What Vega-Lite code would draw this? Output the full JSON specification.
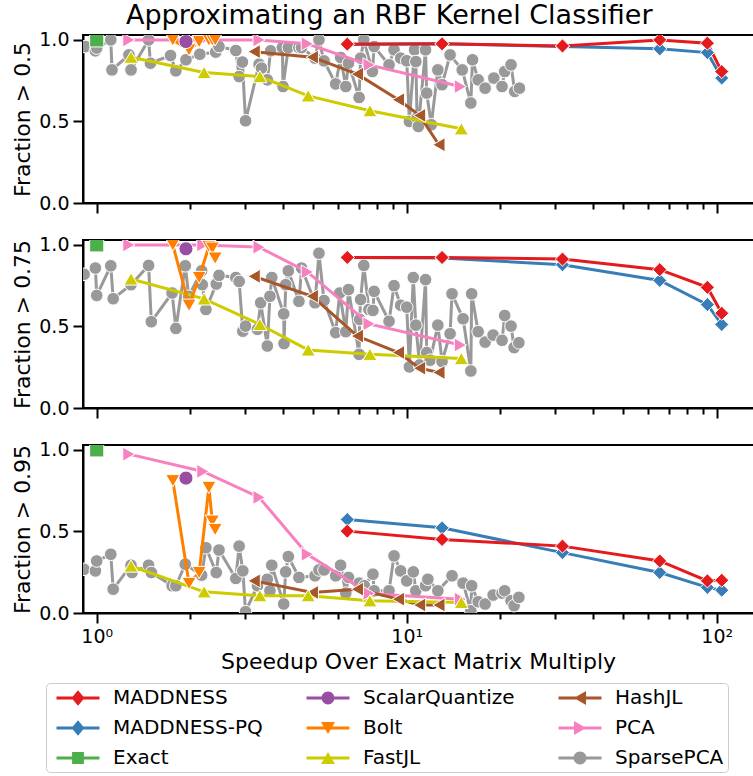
{
  "$schema": "https://vega.github.io/schema/vega-lite/v6.json",
  "padding": {"left": 10, "top": 1, "right": 0, "bottom": 0},
  "title": {
    "text": "Approximating an RBF Kernel Classifier",
    "fontSize": 27,
    "fontWeight": "normal",
    "font": "DejaVu Sans",
    "color": "black",
    "anchor": "start",
    "frame": "group",
    "dx": 43,
    "offset": 0
  },
  "config": {
    "font": "DejaVu Sans",
    "view": {"stroke": "black", "strokeWidth": 2},
    "axis": {
      "grid": false,
      "domainColor": "black",
      "domainWidth": 2,
      "tickColor": "black",
      "tickWidth": 2,
      "tickSize": 10,
      "labelFont": "DejaVu Sans",
      "labelFontSize": 19,
      "labelColor": "black",
      "labelPadding": 4,
      "labelFlush": false,
      "labelOverlap": false,
      "titleFont": "DejaVu Sans",
      "titleFontSize": 22,
      "titleFontWeight": "normal",
      "titleColor": "black"
    },
    "legend": {
      "labelFont": "DejaVu Sans",
      "labelFontSize": 20,
      "labelColor": "black",
      "symbolSize": 462,
      "symbolStrokeWidth": 0,
      "symbolOpacity": 1,
      "symbolOffset": 17,
      "labelOffset": 24,
      "rowPadding": 9,
      "columnPadding": 37,
      "padding": 4,
      "strokeColor": "#cccccc",
      "fillColor": "white",
      "cornerRadius": 4,
      "labelLimit": 400
    }
  },
  "spacing": 37,
  "bounds": "flush",
  "resolve": {"scale": {"color": "shared", "shape": "shared", "stroke": "shared"}},
  "datasets": {
    "results": [
      {"panel": 1, "method": "SparsePCA", "x": 0.92, "y": 0.959},
      {"panel": 1, "method": "SparsePCA", "x": 0.99, "y": 0.933},
      {"panel": 1, "method": "SparsePCA", "x": 1.0, "y": 0.95},
      {"panel": 1, "method": "SparsePCA", "x": 1.11, "y": 1.0},
      {"panel": 1, "method": "SparsePCA", "x": 1.12, "y": 0.816},
      {"panel": 1, "method": "SparsePCA", "x": 1.27, "y": 0.908},
      {"panel": 1, "method": "SparsePCA", "x": 1.29, "y": 0.816},
      {"panel": 1, "method": "SparsePCA", "x": 1.47, "y": 1.0},
      {"panel": 1, "method": "SparsePCA", "x": 1.49, "y": 0.857},
      {"panel": 1, "method": "SparsePCA", "x": 1.73, "y": 0.904},
      {"panel": 1, "method": "SparsePCA", "x": 1.8, "y": 0.81},
      {"panel": 1, "method": "SparsePCA", "x": 1.94, "y": 0.878},
      {"panel": 1, "method": "SparsePCA", "x": 2.15, "y": 0.912},
      {"panel": 1, "method": "SparsePCA", "x": 2.42, "y": 0.925},
      {"panel": 1, "method": "SparsePCA", "x": 2.48, "y": 0.959},
      {"panel": 1, "method": "SparsePCA", "x": 2.81, "y": 0.935},
      {"panel": 1, "method": "SparsePCA", "x": 2.88, "y": 0.775},
      {"panel": 1, "method": "SparsePCA", "x": 2.95, "y": 0.864},
      {"panel": 1, "method": "SparsePCA", "x": 3.02, "y": 0.504},
      {"panel": 1, "method": "SparsePCA", "x": 3.34, "y": 0.851},
      {"panel": 1, "method": "SparsePCA", "x": 3.4, "y": 0.827},
      {"panel": 1, "method": "SparsePCA", "x": 3.55, "y": 0.755},
      {"panel": 1, "method": "SparsePCA", "x": 3.64, "y": 0.933},
      {"panel": 1, "method": "SparsePCA", "x": 3.97, "y": 0.953},
      {"panel": 1, "method": "SparsePCA", "x": 3.99, "y": 0.714},
      {"panel": 1, "method": "SparsePCA", "x": 4.15, "y": 0.953},
      {"panel": 1, "method": "SparsePCA", "x": 4.49, "y": 0.953},
      {"panel": 1, "method": "SparsePCA", "x": 4.58, "y": 0.953},
      {"panel": 1, "method": "SparsePCA", "x": 5.06, "y": 0.888},
      {"panel": 1, "method": "SparsePCA", "x": 5.21, "y": 1.0},
      {"panel": 1, "method": "SparsePCA", "x": 5.41, "y": 0.871},
      {"panel": 1, "method": "SparsePCA", "x": 5.9, "y": 0.73},
      {"panel": 1, "method": "SparsePCA", "x": 6.12, "y": 0.892},
      {"panel": 1, "method": "SparsePCA", "x": 6.36, "y": 0.714},
      {"panel": 1, "method": "SparsePCA", "x": 6.49, "y": 0.857},
      {"panel": 1, "method": "SparsePCA", "x": 7.02, "y": 0.647},
      {"panel": 1, "method": "SparsePCA", "x": 7.1, "y": 0.888},
      {"panel": 1, "method": "SparsePCA", "x": 7.27, "y": 1.0},
      {"panel": 1, "method": "SparsePCA", "x": 7.75, "y": 0.806},
      {"panel": 1, "method": "SparsePCA", "x": 7.85, "y": 0.959},
      {"panel": 1, "method": "SparsePCA", "x": 8.77, "y": 0.847},
      {"panel": 1, "method": "SparsePCA", "x": 9.1, "y": 0.939},
      {"panel": 1, "method": "SparsePCA", "x": 9.56, "y": 0.888},
      {"panel": 1, "method": "SparsePCA", "x": 10.0, "y": 0.872},
      {"panel": 1, "method": "SparsePCA", "x": 10.2, "y": 0.5},
      {"panel": 1, "method": "SparsePCA", "x": 10.6, "y": 0.939},
      {"panel": 1, "method": "SparsePCA", "x": 10.7, "y": 0.867},
      {"panel": 1, "method": "SparsePCA", "x": 10.8, "y": 0.521},
      {"panel": 1, "method": "SparsePCA", "x": 10.9, "y": 0.469},
      {"panel": 1, "method": "SparsePCA", "x": 11.5, "y": 0.939},
      {"panel": 1, "method": "SparsePCA", "x": 11.6, "y": 0.674},
      {"panel": 1, "method": "SparsePCA", "x": 12.0, "y": 0.48},
      {"panel": 1, "method": "SparsePCA", "x": 12.6, "y": 0.816},
      {"panel": 1, "method": "SparsePCA", "x": 13.0, "y": 0.725},
      {"panel": 1, "method": "SparsePCA", "x": 13.8, "y": 0.908},
      {"panel": 1, "method": "SparsePCA", "x": 15.1, "y": 0.816},
      {"panel": 1, "method": "SparsePCA", "x": 16.1, "y": 0.613},
      {"panel": 1, "method": "SparsePCA", "x": 16.3, "y": 0.878},
      {"panel": 1, "method": "SparsePCA", "x": 17.0, "y": 0.755},
      {"panel": 1, "method": "SparsePCA", "x": 17.9, "y": 0.704},
      {"panel": 1, "method": "SparsePCA", "x": 19.1, "y": 0.766},
      {"panel": 1, "method": "SparsePCA", "x": 20.3, "y": 0.714},
      {"panel": 1, "method": "SparsePCA", "x": 20.7, "y": 0.806},
      {"panel": 1, "method": "SparsePCA", "x": 21.7, "y": 0.847},
      {"panel": 1, "method": "SparsePCA", "x": 22.3, "y": 0.684},
      {"panel": 1, "method": "SparsePCA", "x": 23.1, "y": 0.704},

      {"panel": 2, "method": "SparsePCA", "x": 0.91, "y": 0.82},
      {"panel": 2, "method": "SparsePCA", "x": 0.99, "y": 0.858},
      {"panel": 2, "method": "SparsePCA", "x": 1.0, "y": 0.69},
      {"panel": 2, "method": "SparsePCA", "x": 1.11, "y": 0.872},
      {"panel": 2, "method": "SparsePCA", "x": 1.13, "y": 0.67},
      {"panel": 2, "method": "SparsePCA", "x": 1.29, "y": 0.756},
      {"panel": 2, "method": "SparsePCA", "x": 1.47, "y": 0.874},
      {"panel": 2, "method": "SparsePCA", "x": 1.5, "y": 0.529},
      {"panel": 2, "method": "SparsePCA", "x": 1.75, "y": 0.705},
      {"panel": 2, "method": "SparsePCA", "x": 1.8, "y": 0.488},
      {"panel": 2, "method": "SparsePCA", "x": 1.93, "y": 0.872},
      {"panel": 2, "method": "SparsePCA", "x": 1.98, "y": 0.685},
      {"panel": 2, "method": "SparsePCA", "x": 2.18, "y": 0.841},
      {"panel": 2, "method": "SparsePCA", "x": 2.19, "y": 0.756},
      {"panel": 2, "method": "SparsePCA", "x": 2.25, "y": 0.604},
      {"panel": 2, "method": "SparsePCA", "x": 2.43, "y": 0.76},
      {"panel": 2, "method": "SparsePCA", "x": 2.48, "y": 0.813},
      {"panel": 2, "method": "SparsePCA", "x": 2.81, "y": 0.8},
      {"panel": 2, "method": "SparsePCA", "x": 2.88, "y": 0.776},
      {"panel": 2, "method": "SparsePCA", "x": 2.96, "y": 0.471},
      {"panel": 2, "method": "SparsePCA", "x": 3.02, "y": 0.502},
      {"panel": 2, "method": "SparsePCA", "x": 3.3, "y": 0.482},
      {"panel": 2, "method": "SparsePCA", "x": 3.38, "y": 0.645},
      {"panel": 2, "method": "SparsePCA", "x": 3.55, "y": 0.38},
      {"panel": 2, "method": "SparsePCA", "x": 3.62, "y": 0.685},
      {"panel": 2, "method": "SparsePCA", "x": 3.67, "y": 0.8},
      {"panel": 2, "method": "SparsePCA", "x": 4.01, "y": 0.577},
      {"panel": 2, "method": "SparsePCA", "x": 4.02, "y": 0.395},
      {"panel": 2, "method": "SparsePCA", "x": 4.07, "y": 0.756},
      {"panel": 2, "method": "SparsePCA", "x": 4.15, "y": 0.841},
      {"panel": 2, "method": "SparsePCA", "x": 4.49, "y": 0.654},
      {"panel": 2, "method": "SparsePCA", "x": 4.58, "y": 0.858},
      {"panel": 2, "method": "SparsePCA", "x": 5.06, "y": 0.645},
      {"panel": 2, "method": "SparsePCA", "x": 5.21, "y": 0.949},
      {"panel": 2, "method": "SparsePCA", "x": 5.41, "y": 0.659},
      {"panel": 2, "method": "SparsePCA", "x": 5.9, "y": 0.462},
      {"panel": 2, "method": "SparsePCA", "x": 6.08, "y": 0.705},
      {"panel": 2, "method": "SparsePCA", "x": 6.36, "y": 0.468},
      {"panel": 2, "method": "SparsePCA", "x": 6.49, "y": 0.726},
      {"panel": 2, "method": "SparsePCA", "x": 7.02, "y": 0.329},
      {"panel": 2, "method": "SparsePCA", "x": 7.05, "y": 0.543},
      {"panel": 2, "method": "SparsePCA", "x": 7.1, "y": 0.665},
      {"panel": 2, "method": "SparsePCA", "x": 7.27, "y": 0.874},
      {"panel": 2, "method": "SparsePCA", "x": 7.55, "y": 0.604},
      {"panel": 2, "method": "SparsePCA", "x": 7.78, "y": 0.598},
      {"panel": 2, "method": "SparsePCA", "x": 7.85, "y": 0.715},
      {"panel": 2, "method": "SparsePCA", "x": 8.77, "y": 0.532},
      {"panel": 2, "method": "SparsePCA", "x": 9.1, "y": 0.75},
      {"panel": 2, "method": "SparsePCA", "x": 9.56, "y": 0.63},
      {"panel": 2, "method": "SparsePCA", "x": 10.0, "y": 0.618},
      {"panel": 2, "method": "SparsePCA", "x": 10.2, "y": 0.252},
      {"panel": 2, "method": "SparsePCA", "x": 10.5, "y": 0.8},
      {"panel": 2, "method": "SparsePCA", "x": 10.7, "y": 0.508},
      {"panel": 2, "method": "SparsePCA", "x": 11.0, "y": 0.264},
      {"panel": 2, "method": "SparsePCA", "x": 11.5, "y": 0.787},
      {"panel": 2, "method": "SparsePCA", "x": 11.6, "y": 0.34},
      {"panel": 2, "method": "SparsePCA", "x": 11.9, "y": 0.293},
      {"panel": 2, "method": "SparsePCA", "x": 12.6, "y": 0.508},
      {"panel": 2, "method": "SparsePCA", "x": 13.0, "y": 0.285},
      {"panel": 2, "method": "SparsePCA", "x": 13.8, "y": 0.455},
      {"panel": 2, "method": "SparsePCA", "x": 14.0, "y": 0.7},
      {"panel": 2, "method": "SparsePCA", "x": 15.2, "y": 0.547},
      {"panel": 2, "method": "SparsePCA", "x": 16.1, "y": 0.227},
      {"panel": 2, "method": "SparsePCA", "x": 16.2, "y": 0.7},
      {"panel": 2, "method": "SparsePCA", "x": 17.0, "y": 0.468},
      {"panel": 2, "method": "SparsePCA", "x": 17.9, "y": 0.404},
      {"panel": 2, "method": "SparsePCA", "x": 19.0, "y": 0.447},
      {"panel": 2, "method": "SparsePCA", "x": 20.3, "y": 0.415},
      {"panel": 2, "method": "SparsePCA", "x": 20.7, "y": 0.567},
      {"panel": 2, "method": "SparsePCA", "x": 21.7, "y": 0.502},
      {"panel": 2, "method": "SparsePCA", "x": 22.2, "y": 0.37},
      {"panel": 2, "method": "SparsePCA", "x": 23.0, "y": 0.4},

      {"panel": 3, "method": "SparsePCA", "x": 0.91, "y": 0.268},
      {"panel": 3, "method": "SparsePCA", "x": 0.99, "y": 0.258},
      {"panel": 3, "method": "SparsePCA", "x": 1.0, "y": 0.319},
      {"panel": 3, "method": "SparsePCA", "x": 1.11, "y": 0.36},
      {"panel": 3, "method": "SparsePCA", "x": 1.13, "y": 0.146},
      {"panel": 3, "method": "SparsePCA", "x": 1.29, "y": 0.293},
      {"panel": 3, "method": "SparsePCA", "x": 1.3, "y": 0.248},
      {"panel": 3, "method": "SparsePCA", "x": 1.47, "y": 0.293},
      {"panel": 3, "method": "SparsePCA", "x": 1.5, "y": 0.248},
      {"panel": 3, "method": "SparsePCA", "x": 1.75, "y": 0.167},
      {"panel": 3, "method": "SparsePCA", "x": 1.8, "y": 0.167},
      {"panel": 3, "method": "SparsePCA", "x": 1.93, "y": 0.299},
      {"panel": 3, "method": "SparsePCA", "x": 2.18, "y": 0.232},
      {"panel": 3, "method": "SparsePCA", "x": 2.25, "y": 0.4},
      {"panel": 3, "method": "SparsePCA", "x": 2.43, "y": 0.248},
      {"panel": 3, "method": "SparsePCA", "x": 2.48, "y": 0.386},
      {"panel": 3, "method": "SparsePCA", "x": 2.81, "y": 0.212},
      {"panel": 3, "method": "SparsePCA", "x": 2.88, "y": 0.41},
      {"panel": 3, "method": "SparsePCA", "x": 2.96, "y": 0.258},
      {"panel": 3, "method": "SparsePCA", "x": 3.02, "y": 0.008},
      {"panel": 3, "method": "SparsePCA", "x": 3.3, "y": 0.167},
      {"panel": 3, "method": "SparsePCA", "x": 3.55, "y": 0.207},
      {"panel": 3, "method": "SparsePCA", "x": 3.62, "y": 0.136},
      {"panel": 3, "method": "SparsePCA", "x": 3.67, "y": 0.293},
      {"panel": 3, "method": "SparsePCA", "x": 4.01, "y": 0.055},
      {"panel": 3, "method": "SparsePCA", "x": 4.07, "y": 0.252},
      {"panel": 3, "method": "SparsePCA", "x": 4.15, "y": 0.346},
      {"panel": 3, "method": "SparsePCA", "x": 4.49, "y": 0.218},
      {"panel": 3, "method": "SparsePCA", "x": 5.06, "y": 0.228},
      {"panel": 3, "method": "SparsePCA", "x": 5.21, "y": 0.264},
      {"panel": 3, "method": "SparsePCA", "x": 5.41, "y": 0.264},
      {"panel": 3, "method": "SparsePCA", "x": 5.9, "y": 0.228},
      {"panel": 3, "method": "SparsePCA", "x": 6.12, "y": 0.293},
      {"panel": 3, "method": "SparsePCA", "x": 6.36, "y": 0.122},
      {"panel": 3, "method": "SparsePCA", "x": 6.49, "y": 0.218},
      {"panel": 3, "method": "SparsePCA", "x": 7.02, "y": 0.183},
      {"panel": 3, "method": "SparsePCA", "x": 7.3, "y": 0.167},
      {"panel": 3, "method": "SparsePCA", "x": 7.78, "y": 0.238},
      {"panel": 3, "method": "SparsePCA", "x": 7.85, "y": 0.136},
      {"panel": 3, "method": "SparsePCA", "x": 8.77, "y": 0.136},
      {"panel": 3, "method": "SparsePCA", "x": 9.1, "y": 0.35},
      {"panel": 3, "method": "SparsePCA", "x": 9.56, "y": 0.258},
      {"panel": 3, "method": "SparsePCA", "x": 10.0, "y": 0.197},
      {"panel": 3, "method": "SparsePCA", "x": 10.5, "y": 0.252},
      {"panel": 3, "method": "SparsePCA", "x": 10.7, "y": 0.136},
      {"panel": 3, "method": "SparsePCA", "x": 11.5, "y": 0.167},
      {"panel": 3, "method": "SparsePCA", "x": 11.7, "y": 0.207},
      {"panel": 3, "method": "SparsePCA", "x": 12.6, "y": 0.136},
      {"panel": 3, "method": "SparsePCA", "x": 14.0, "y": 0.228},
      {"panel": 3, "method": "SparsePCA", "x": 15.2, "y": 0.183},
      {"panel": 3, "method": "SparsePCA", "x": 16.1, "y": 0.014},
      {"panel": 3, "method": "SparsePCA", "x": 16.2, "y": 0.167},
      {"panel": 3, "method": "SparsePCA", "x": 17.0, "y": 0.069},
      {"panel": 3, "method": "SparsePCA", "x": 17.9, "y": 0.055},
      {"panel": 3, "method": "SparsePCA", "x": 19.0, "y": 0.11},
      {"panel": 3, "method": "SparsePCA", "x": 20.3, "y": 0.122},
      {"panel": 3, "method": "SparsePCA", "x": 20.7, "y": 0.136},
      {"panel": 3, "method": "SparsePCA", "x": 21.7, "y": 0.075},
      {"panel": 3, "method": "SparsePCA", "x": 22.2, "y": 0.045},
      {"panel": 3, "method": "SparsePCA", "x": 23.0, "y": 0.096},

      {"panel": 1, "method": "PCA", "x": 1.27, "y": 1.0},
      {"panel": 1, "method": "PCA", "x": 2.2, "y": 1.0},
      {"panel": 1, "method": "PCA", "x": 3.34, "y": 1.0},
      {"panel": 1, "method": "PCA", "x": 4.78, "y": 0.976},
      {"panel": 1, "method": "PCA", "x": 7.56, "y": 0.847},
      {"panel": 1, "method": "PCA", "x": 14.9, "y": 0.714},
      {"panel": 2, "method": "PCA", "x": 1.27, "y": 1.0},
      {"panel": 2, "method": "PCA", "x": 2.2, "y": 1.0},
      {"panel": 2, "method": "PCA", "x": 3.34, "y": 0.986},
      {"panel": 2, "method": "PCA", "x": 4.78, "y": 0.834},
      {"panel": 2, "method": "PCA", "x": 7.56, "y": 0.516},
      {"panel": 2, "method": "PCA", "x": 14.9, "y": 0.386},
      {"panel": 3, "method": "PCA", "x": 1.27, "y": 0.974},
      {"panel": 3, "method": "PCA", "x": 2.2, "y": 0.868},
      {"panel": 3, "method": "PCA", "x": 3.34, "y": 0.709},
      {"panel": 3, "method": "PCA", "x": 4.78, "y": 0.36},
      {"panel": 3, "method": "PCA", "x": 7.56, "y": 0.12},
      {"panel": 3, "method": "PCA", "x": 14.9, "y": 0.085},

      {"panel": 1, "method": "HashJL", "x": 3.22, "y": 0.928},
      {"panel": 1, "method": "HashJL", "x": 4.96, "y": 0.894},
      {"panel": 1, "method": "HashJL", "x": 6.93, "y": 0.79},
      {"panel": 1, "method": "HashJL", "x": 9.4, "y": 0.633},
      {"panel": 1, "method": "HashJL", "x": 11.0, "y": 0.537},
      {"panel": 1, "method": "HashJL", "x": 12.7, "y": 0.357},
      {"panel": 2, "method": "HashJL", "x": 3.22, "y": 0.807},
      {"panel": 2, "method": "HashJL", "x": 4.96, "y": 0.685},
      {"panel": 2, "method": "HashJL", "x": 6.93, "y": 0.441},
      {"panel": 2, "method": "HashJL", "x": 9.4, "y": 0.34},
      {"panel": 2, "method": "HashJL", "x": 11.0, "y": 0.244},
      {"panel": 2, "method": "HashJL", "x": 12.7, "y": 0.218},
      {"panel": 3, "method": "HashJL", "x": 3.22, "y": 0.197},
      {"panel": 3, "method": "HashJL", "x": 4.96, "y": 0.126},
      {"panel": 3, "method": "HashJL", "x": 6.93, "y": 0.146},
      {"panel": 3, "method": "HashJL", "x": 9.4, "y": 0.085},
      {"panel": 3, "method": "HashJL", "x": 11.0, "y": 0.049},
      {"panel": 3, "method": "HashJL", "x": 12.7, "y": 0.049},

      {"panel": 1, "method": "FastJL", "x": 1.29, "y": 0.894},
      {"panel": 1, "method": "FastJL", "x": 2.22, "y": 0.8},
      {"panel": 1, "method": "FastJL", "x": 3.36, "y": 0.775},
      {"panel": 1, "method": "FastJL", "x": 4.81, "y": 0.657},
      {"panel": 1, "method": "FastJL", "x": 7.61, "y": 0.566},
      {"panel": 1, "method": "FastJL", "x": 15.0, "y": 0.455},
      {"panel": 2, "method": "FastJL", "x": 1.29, "y": 0.791},
      {"panel": 2, "method": "FastJL", "x": 2.22, "y": 0.669},
      {"panel": 2, "method": "FastJL", "x": 3.36, "y": 0.512},
      {"panel": 2, "method": "FastJL", "x": 4.81, "y": 0.356},
      {"panel": 2, "method": "FastJL", "x": 7.61, "y": 0.329},
      {"panel": 2, "method": "FastJL", "x": 15.0, "y": 0.303},
      {"panel": 3, "method": "FastJL", "x": 1.29, "y": 0.288},
      {"panel": 3, "method": "FastJL", "x": 2.22, "y": 0.13},
      {"panel": 3, "method": "FastJL", "x": 3.36, "y": 0.106},
      {"panel": 3, "method": "FastJL", "x": 4.81, "y": 0.106},
      {"panel": 3, "method": "FastJL", "x": 7.61, "y": 0.075},
      {"panel": 3, "method": "FastJL", "x": 15.0, "y": 0.065},

      {"panel": 1, "method": "Bolt", "x": 1.76, "y": 1.0},
      {"panel": 1, "method": "Bolt", "x": 1.985, "y": 0.939},
      {"panel": 1, "method": "Bolt", "x": 2.14, "y": 0.99},
      {"panel": 1, "method": "Bolt", "x": 2.3, "y": 1.0},
      {"panel": 1, "method": "Bolt", "x": 2.36, "y": 1.0},
      {"panel": 1, "method": "Bolt", "x": 2.41, "y": 1.0},
      {"panel": 2, "method": "Bolt", "x": 1.76, "y": 1.0},
      {"panel": 2, "method": "Bolt", "x": 1.985, "y": 0.63},
      {"panel": 2, "method": "Bolt", "x": 2.14, "y": 0.8},
      {"panel": 2, "method": "Bolt", "x": 2.3, "y": 0.99},
      {"panel": 2, "method": "Bolt", "x": 2.36, "y": 0.98},
      {"panel": 2, "method": "Bolt", "x": 2.41, "y": 0.919},
      {"panel": 3, "method": "Bolt", "x": 1.76, "y": 0.811},
      {"panel": 3, "method": "Bolt", "x": 1.985, "y": 0.181},
      {"panel": 3, "method": "Bolt", "x": 2.14, "y": 0.248},
      {"panel": 3, "method": "Bolt", "x": 2.3, "y": 0.77},
      {"panel": 3, "method": "Bolt", "x": 2.36, "y": 0.563},
      {"panel": 3, "method": "Bolt", "x": 2.41, "y": 0.512},

      {"panel": 1, "method": "ScalarQuantize", "x": 1.94, "y": 0.99},
      {"panel": 2, "method": "ScalarQuantize", "x": 1.94, "y": 0.976},
      {"panel": 3, "method": "ScalarQuantize", "x": 1.94, "y": 0.827},

      {"panel": 1, "method": "Exact", "x": 1.0, "y": 1.0},
      {"panel": 2, "method": "Exact", "x": 1.0, "y": 1.0},
      {"panel": 3, "method": "Exact", "x": 1.0, "y": 1.0},

      {"panel": 1, "method": "MADDNESS-PQ", "x": 6.43, "y": 0.974},
      {"panel": 1, "method": "MADDNESS-PQ", "x": 13.0, "y": 0.976},
      {"panel": 1, "method": "MADDNESS-PQ", "x": 31.8, "y": 0.96},
      {"panel": 1, "method": "MADDNESS-PQ", "x": 65.5, "y": 0.945},
      {"panel": 1, "method": "MADDNESS-PQ", "x": 93.3, "y": 0.922},
      {"panel": 1, "method": "MADDNESS-PQ", "x": 103.8, "y": 0.766},
      {"panel": 2, "method": "MADDNESS-PQ", "x": 6.43, "y": 0.923},
      {"panel": 2, "method": "MADDNESS-PQ", "x": 13.0, "y": 0.92},
      {"panel": 2, "method": "MADDNESS-PQ", "x": 31.8, "y": 0.878},
      {"panel": 2, "method": "MADDNESS-PQ", "x": 65.5, "y": 0.782},
      {"panel": 2, "method": "MADDNESS-PQ", "x": 93.3, "y": 0.634},
      {"panel": 2, "method": "MADDNESS-PQ", "x": 103.8, "y": 0.512},
      {"panel": 3, "method": "MADDNESS-PQ", "x": 6.43, "y": 0.573},
      {"panel": 3, "method": "MADDNESS-PQ", "x": 13.0, "y": 0.522},
      {"panel": 3, "method": "MADDNESS-PQ", "x": 31.8, "y": 0.37},
      {"panel": 3, "method": "MADDNESS-PQ", "x": 65.5, "y": 0.248},
      {"panel": 3, "method": "MADDNESS-PQ", "x": 93.3, "y": 0.157},
      {"panel": 3, "method": "MADDNESS-PQ", "x": 103.8, "y": 0.14},

      {"panel": 1, "method": "MADDNESS", "x": 6.43, "y": 0.974},
      {"panel": 1, "method": "MADDNESS", "x": 13.0, "y": 0.976},
      {"panel": 1, "method": "MADDNESS", "x": 31.8, "y": 0.963},
      {"panel": 1, "method": "MADDNESS", "x": 65.5, "y": 1.0},
      {"panel": 1, "method": "MADDNESS", "x": 93.3, "y": 0.98},
      {"panel": 1, "method": "MADDNESS", "x": 103.8, "y": 0.806},
      {"panel": 2, "method": "MADDNESS", "x": 6.43, "y": 0.923},
      {"panel": 2, "method": "MADDNESS", "x": 13.0, "y": 0.923},
      {"panel": 2, "method": "MADDNESS", "x": 31.8, "y": 0.913},
      {"panel": 2, "method": "MADDNESS", "x": 65.5, "y": 0.848},
      {"panel": 2, "method": "MADDNESS", "x": 93.3, "y": 0.74},
      {"panel": 2, "method": "MADDNESS", "x": 103.8, "y": 0.581},
      {"panel": 3, "method": "MADDNESS", "x": 6.43, "y": 0.502},
      {"panel": 3, "method": "MADDNESS", "x": 13.0, "y": 0.451},
      {"panel": 3, "method": "MADDNESS", "x": 31.8, "y": 0.41},
      {"panel": 3, "method": "MADDNESS", "x": 65.5, "y": 0.319},
      {"panel": 3, "method": "MADDNESS", "x": 93.3, "y": 0.197},
      {"panel": 3, "method": "MADDNESS", "x": 103.8, "y": 0.201}
    ]
  },
  "vconcat": [
    {
      "width": 676,
      "height": 168,
      "data": {"name": "results"},
      "transform": [{"filter": "datum.panel == 1"}],
      "encoding": {
        "x": {
          "field": "x", "type": "quantitative",
          "scale": {"type": "log", "domain": [0.903, 136.9], "nice": false},
          "axis": {
            "values": [1, 2, 3, 4, 5, 6, 7, 8, 9, 10, 20, 30, 40, 50, 60, 70, 80, 90, 100],
            "labels": false, "title": null,
            "tickSize": {"condition": {"test": "datum.value == 1 || datum.value == 10 || datum.value == 100", "value": 10}, "value": 6}
          }
        },
        "y": {
          "field": "y", "type": "quantitative",
          "scale": {"domain": [0, 1.03], "nice": false, "zero": false},
          "axis": {"values": [0, 0.5, 1.0], "format": ".1f", "title": "Fraction > 0.5", "titlePadding": 4}
        }
      },
      "layer": [
        {
          "transform": [{"filter": "datum.method == 'SparsePCA'"}],
          "mark": {"type": "line", "strokeWidth": 3, "clip": true},
          "encoding": {
            "stroke": {"field": "method", "type": "nominal", "legend": null,
              "scale": {"domain": ["MADDNESS", "MADDNESS-PQ", "Exact", "ScalarQuantize", "Bolt", "FastJL", "HashJL", "PCA", "SparsePCA"],
                        "range": ["#e41a1c", "#377eb8", "#4daf4a", "#984ea3", "#ff7f00", "#cccc00", "#a65628", "#f781bf", "#999999"]}}
          }
        },
        {
          "transform": [{"filter": "datum.method == 'SparsePCA'"}],
          "mark": {"type": "point", "shape": "circle", "filled": true, "size": 160, "opacity": 1, "stroke": "white", "strokeWidth": 1, "clip": true},
          "encoding": {
            "color": {"field": "method", "type": "nominal",
              "scale": {"domain": ["MADDNESS", "ScalarQuantize", "HashJL", "MADDNESS-PQ", "Bolt", "PCA", "Exact", "FastJL", "SparsePCA"],
                        "range": ["#e41a1c", "#984ea3", "#a65628", "#377eb8", "#ff7f00", "#f781bf", "#4daf4a", "#cccc00", "#999999"]},
              "legend": {"title": null, "orient": "none", "legendX": -37, "legendY": 648, "direction": "horizontal", "columns": 3}}
          }
        },
        {
          "transform": [{"filter": "datum.method != 'SparsePCA'"}],
          "mark": {"type": "line", "strokeWidth": 3, "clip": true},
          "encoding": {
            "stroke": {"field": "method", "type": "nominal", "legend": null,
              "scale": {"domain": ["MADDNESS", "MADDNESS-PQ", "Exact", "ScalarQuantize", "Bolt", "FastJL", "HashJL", "PCA", "SparsePCA"],
                        "range": ["#e41a1c", "#377eb8", "#4daf4a", "#984ea3", "#ff7f00", "#cccc00", "#a65628", "#f781bf", "#999999"]}}
          }
        },
        {
          "transform": [{"filter": "datum.method != 'SparsePCA'"}],
          "mark": {"type": "point", "filled": true, "size": 200, "opacity": 1, "stroke": "white", "strokeWidth": 1, "clip": true},
          "encoding": {
            "color": {"field": "method", "type": "nominal",
              "scale": {"domain": ["MADDNESS", "ScalarQuantize", "HashJL", "MADDNESS-PQ", "Bolt", "PCA", "Exact", "FastJL", "SparsePCA"],
                        "range": ["#e41a1c", "#984ea3", "#a65628", "#377eb8", "#ff7f00", "#f781bf", "#4daf4a", "#cccc00", "#999999"]},
              "legend": {"title": null, "orient": "none", "legendX": -37, "legendY": 648, "direction": "horizontal", "columns": 3}},
            "shape": {
              "condition": [
                {"test": "datum.method == 'MADDNESS' || datum.method == 'MADDNESS-PQ'", "value": "diamond"},
                {"test": "datum.method == 'Exact'", "value": "square"},
                {"test": "datum.method == 'Bolt'", "value": "triangle-down"},
                {"test": "datum.method == 'FastJL'", "value": "triangle-up"},
                {"test": "datum.method == 'HashJL'", "value": "triangle-left"},
                {"test": "datum.method == 'PCA'", "value": "triangle-right"}
              ],
              "value": "circle"
            }
          }
        }
      ]
    },
    {
      "width": 676,
      "height": 168,
      "data": {"name": "results"},
      "transform": [{"filter": "datum.panel == 2"}],
      "encoding": {
        "x": {
          "field": "x", "type": "quantitative",
          "scale": {"type": "log", "domain": [0.903, 136.9], "nice": false},
          "axis": {
            "values": [1, 2, 3, 4, 5, 6, 7, 8, 9, 10, 20, 30, 40, 50, 60, 70, 80, 90, 100],
            "labels": false, "title": null,
            "tickSize": {"condition": {"test": "datum.value == 1 || datum.value == 10 || datum.value == 100", "value": 10}, "value": 6}
          }
        },
        "y": {
          "field": "y", "type": "quantitative",
          "scale": {"domain": [0, 1.03], "nice": false, "zero": false},
          "axis": {"values": [0, 0.5, 1.0], "format": ".1f", "title": "Fraction > 0.75", "titlePadding": 4}
        }
      },
      "layer": [
        {
          "transform": [{"filter": "datum.method == 'SparsePCA'"}],
          "mark": {"type": "line", "strokeWidth": 3, "clip": true},
          "encoding": {
            "stroke": {"field": "method", "type": "nominal", "legend": null,
              "scale": {"domain": ["MADDNESS", "MADDNESS-PQ", "Exact", "ScalarQuantize", "Bolt", "FastJL", "HashJL", "PCA", "SparsePCA"],
                        "range": ["#e41a1c", "#377eb8", "#4daf4a", "#984ea3", "#ff7f00", "#cccc00", "#a65628", "#f781bf", "#999999"]}}
          }
        },
        {
          "transform": [{"filter": "datum.method == 'SparsePCA'"}],
          "mark": {"type": "point", "shape": "circle", "filled": true, "size": 160, "opacity": 1, "stroke": "white", "strokeWidth": 1, "clip": true},
          "encoding": {
            "color": {"field": "method", "type": "nominal",
              "scale": {"domain": ["MADDNESS", "ScalarQuantize", "HashJL", "MADDNESS-PQ", "Bolt", "PCA", "Exact", "FastJL", "SparsePCA"],
                        "range": ["#e41a1c", "#984ea3", "#a65628", "#377eb8", "#ff7f00", "#f781bf", "#4daf4a", "#cccc00", "#999999"]},
              "legend": {"title": null, "orient": "none", "legendX": -37, "legendY": 648, "direction": "horizontal", "columns": 3}}
          }
        },
        {
          "transform": [{"filter": "datum.method != 'SparsePCA'"}],
          "mark": {"type": "line", "strokeWidth": 3, "clip": true},
          "encoding": {
            "stroke": {"field": "method", "type": "nominal", "legend": null,
              "scale": {"domain": ["MADDNESS", "MADDNESS-PQ", "Exact", "ScalarQuantize", "Bolt", "FastJL", "HashJL", "PCA", "SparsePCA"],
                        "range": ["#e41a1c", "#377eb8", "#4daf4a", "#984ea3", "#ff7f00", "#cccc00", "#a65628", "#f781bf", "#999999"]}}
          }
        },
        {
          "transform": [{"filter": "datum.method != 'SparsePCA'"}],
          "mark": {"type": "point", "filled": true, "size": 200, "opacity": 1, "stroke": "white", "strokeWidth": 1, "clip": true},
          "encoding": {
            "color": {"field": "method", "type": "nominal",
              "scale": {"domain": ["MADDNESS", "ScalarQuantize", "HashJL", "MADDNESS-PQ", "Bolt", "PCA", "Exact", "FastJL", "SparsePCA"],
                        "range": ["#e41a1c", "#984ea3", "#a65628", "#377eb8", "#ff7f00", "#f781bf", "#4daf4a", "#cccc00", "#999999"]},
              "legend": {"title": null, "orient": "none", "legendX": -37, "legendY": 648, "direction": "horizontal", "columns": 3}},
            "shape": {
              "condition": [
                {"test": "datum.method == 'MADDNESS' || datum.method == 'MADDNESS-PQ'", "value": "diamond"},
                {"test": "datum.method == 'Exact'", "value": "square"},
                {"test": "datum.method == 'Bolt'", "value": "triangle-down"},
                {"test": "datum.method == 'FastJL'", "value": "triangle-up"},
                {"test": "datum.method == 'HashJL'", "value": "triangle-left"},
                {"test": "datum.method == 'PCA'", "value": "triangle-right"}
              ],
              "value": "circle"
            }
          }
        }
      ]
    },
    {
      "width": 676,
      "height": 168,
      "data": {"name": "results"},
      "transform": [{"filter": "datum.panel == 3"}],
      "encoding": {
        "x": {
          "field": "x", "type": "quantitative",
          "scale": {"type": "log", "domain": [0.903, 136.9], "nice": false},
          "axis": {
            "values": [1, 2, 3, 4, 5, 6, 7, 8, 9, 10, 20, 30, 40, 50, 60, 70, 80, 90, 100],
            "labelExpr": "datum.value == 1 ? '10⁰' : datum.value == 10 ? '10¹' : datum.value == 100 ? '10²' : ''",
            "title": "Speedup Over Exact Matrix Multiply",
            "titlePadding": 5,
            "titleX": 335,
            "tickSize": {"condition": {"test": "datum.value == 1 || datum.value == 10 || datum.value == 100", "value": 10}, "value": 6}
          }
        },
        "y": {
          "field": "y", "type": "quantitative",
          "scale": {"domain": [0, 1.03], "nice": false, "zero": false},
          "axis": {"values": [0, 0.5, 1.0], "format": ".1f", "title": "Fraction > 0.95", "titlePadding": 4}
        }
      },
      "layer": [
        {
          "transform": [{"filter": "datum.method == 'SparsePCA'"}],
          "mark": {"type": "line", "strokeWidth": 3, "clip": true},
          "encoding": {
            "stroke": {"field": "method", "type": "nominal", "legend": null,
              "scale": {"domain": ["MADDNESS", "MADDNESS-PQ", "Exact", "ScalarQuantize", "Bolt", "FastJL", "HashJL", "PCA", "SparsePCA"],
                        "range": ["#e41a1c", "#377eb8", "#4daf4a", "#984ea3", "#ff7f00", "#cccc00", "#a65628", "#f781bf", "#999999"]}}
          }
        },
        {
          "transform": [{"filter": "datum.method == 'SparsePCA'"}],
          "mark": {"type": "point", "shape": "circle", "filled": true, "size": 160, "opacity": 1, "stroke": "white", "strokeWidth": 1, "clip": true},
          "encoding": {
            "color": {"field": "method", "type": "nominal",
              "scale": {"domain": ["MADDNESS", "ScalarQuantize", "HashJL", "MADDNESS-PQ", "Bolt", "PCA", "Exact", "FastJL", "SparsePCA"],
                        "range": ["#e41a1c", "#984ea3", "#a65628", "#377eb8", "#ff7f00", "#f781bf", "#4daf4a", "#cccc00", "#999999"]},
              "legend": {"title": null, "orient": "none", "legendX": -37, "legendY": 648, "direction": "horizontal", "columns": 3}}
          }
        },
        {
          "transform": [{"filter": "datum.method != 'SparsePCA'"}],
          "mark": {"type": "line", "strokeWidth": 3, "clip": true},
          "encoding": {
            "stroke": {"field": "method", "type": "nominal", "legend": null,
              "scale": {"domain": ["MADDNESS", "MADDNESS-PQ", "Exact", "ScalarQuantize", "Bolt", "FastJL", "HashJL", "PCA", "SparsePCA"],
                        "range": ["#e41a1c", "#377eb8", "#4daf4a", "#984ea3", "#ff7f00", "#cccc00", "#a65628", "#f781bf", "#999999"]}}
          }
        },
        {
          "transform": [{"filter": "datum.method != 'SparsePCA'"}],
          "mark": {"type": "point", "filled": true, "size": 200, "opacity": 1, "stroke": "white", "strokeWidth": 1, "clip": true},
          "encoding": {
            "color": {"field": "method", "type": "nominal",
              "scale": {"domain": ["MADDNESS", "ScalarQuantize", "HashJL", "MADDNESS-PQ", "Bolt", "PCA", "Exact", "FastJL", "SparsePCA"],
                        "range": ["#e41a1c", "#984ea3", "#a65628", "#377eb8", "#ff7f00", "#f781bf", "#4daf4a", "#cccc00", "#999999"]},
              "legend": {"title": null, "orient": "none", "legendX": -37, "legendY": 648, "direction": "horizontal", "columns": 3}},
            "shape": {
              "condition": [
                {"test": "datum.method == 'MADDNESS' || datum.method == 'MADDNESS-PQ'", "value": "diamond"},
                {"test": "datum.method == 'Exact'", "value": "square"},
                {"test": "datum.method == 'Bolt'", "value": "triangle-down"},
                {"test": "datum.method == 'FastJL'", "value": "triangle-up"},
                {"test": "datum.method == 'HashJL'", "value": "triangle-left"},
                {"test": "datum.method == 'PCA'", "value": "triangle-right"}
              ],
              "value": "circle"
            }
          }
        },
        {
          "mark": {"type": "point", "filled": true, "opacity": 0, "clip": true},
          "encoding": {
            "color": {"field": "method", "type": "nominal",
              "scale": {"domain": ["MADDNESS", "ScalarQuantize", "HashJL", "MADDNESS-PQ", "Bolt", "PCA", "Exact", "FastJL", "SparsePCA"],
                        "range": ["#e41a1c", "#984ea3", "#a65628", "#377eb8", "#ff7f00", "#f781bf", "#4daf4a", "#cccc00", "#999999"]},
              "legend": {"title": null, "orient": "none", "legendX": -37, "legendY": 648, "direction": "horizontal", "columns": 3}},
            "shape": {"field": "method", "type": "nominal",
              "scale": {"domain": ["MADDNESS", "ScalarQuantize", "HashJL", "MADDNESS-PQ", "Bolt", "PCA", "Exact", "FastJL", "SparsePCA"],
                        "range": [
                          "M-2,-0.14H2V0.14H-2Z M0,-0.72L0.6,0L0,0.72L-0.6,0Z",
                          "M-2,-0.14H2V0.14H-2Z M-0.6,0A0.6,0.6,0,1,1,0.6,0A0.6,0.6,0,1,1,-0.6,0Z",
                          "M-2,-0.14H2V0.14H-2Z M0.56,-0.65L0.56,0.65L-0.56,0Z",
                          "M-2,-0.14H2V0.14H-2Z M0,-0.72L0.6,0L0,0.72L-0.6,0Z",
                          "M-2,-0.14H2V0.14H-2Z M-0.65,-0.56L0.65,-0.56L0,0.56Z",
                          "M-2,-0.14H2V0.14H-2Z M-0.56,-0.65L0.56,0L-0.56,0.65Z",
                          "M-2,-0.14H2V0.14H-2Z M-0.55,-0.55H0.55V0.55H-0.55Z",
                          "M-2,-0.14H2V0.14H-2Z M-0.65,0.56L0,-0.56L0.65,0.56Z",
                          "M-2,-0.14H2V0.14H-2Z M-0.6,0A0.6,0.6,0,1,1,0.6,0A0.6,0.6,0,1,1,-0.6,0Z"
                        ]},
              "legend": {"title": null, "orient": "none", "legendX": -37, "legendY": 648, "direction": "horizontal", "columns": 3}}
          }
        }
      ]
    }
  ]
}
